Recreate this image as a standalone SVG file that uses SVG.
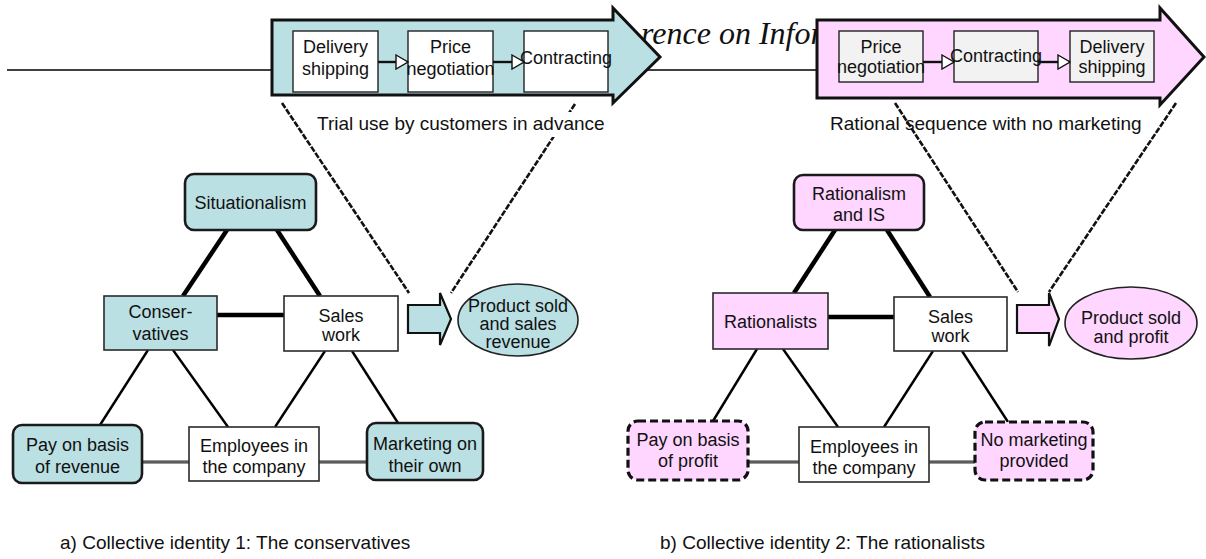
<svg xmlns="http://www.w3.org/2000/svg" width="1206" height="559" viewBox="0 0 1206 559">
  <defs>
    <style>
      .t { font-family: "Liberation Sans", Arial, sans-serif; font-size: 18px; fill: #111; text-anchor: middle; }
      .ts { font-family: "Liberation Sans", Arial, sans-serif; font-size: 18px; fill: #111; text-anchor: middle; }
      .lbl { font-family: "Liberation Sans", Arial, sans-serif; font-size: 19px; fill: #111; }
      .hdr { font-family: "Liberation Serif", "Times New Roman", serif; font-style: italic; font-size: 32px; fill: #111; }
      .teal { fill: #bae0e3; }
      .pink { fill: #ffd6ff; }
      .round { stroke: #1a1a1a; stroke-width: 2.6; }
      .plain { stroke: #2a2a2a; stroke-width: 1.6; }
      .dash { stroke: #111; stroke-width: 3.2; stroke-dasharray: 8 4; }
      .big { stroke: #111; stroke-width: 3; stroke-linejoin: miter; }
      .step { fill: #ffffff; stroke: #222; stroke-width: 1.4; }
      .step2 { fill: #f2f2f2; stroke: #222; stroke-width: 1.4; }
      .thick { stroke: #000; stroke-width: 4.5; fill: none; }
      .thin { stroke: #000; stroke-width: 2.4; fill: none; }
      .flat { stroke: #333; stroke-width: 3; fill: none; }
      .flat-in { stroke: #9a9a9a; stroke-width: 0.8; fill: none; }
      .proj { stroke: #111; stroke-width: 2.6; stroke-dasharray: 6 1.5; fill: none; }
      .flow { stroke: #111; stroke-width: 2.4; fill: none; marker-end: url(#open); }
    </style>
    <marker id="open" viewBox="0 0 14 16" refX="13" refY="8" markerWidth="14" markerHeight="16" markerUnits="userSpaceOnUse" orient="auto">
      <path d="M1,1 L13,8 L1,15 Z" fill="#fff" stroke="#111" stroke-width="1.4"/>
    </marker>
  </defs>

  <rect width="1206" height="559" fill="#fff"/>

  <!-- running header line and title fragment behind the process arrows -->
  <line x1="7" y1="70" x2="818" y2="70" stroke="#000" stroke-width="1.6"/>
  <text class="hdr" x="641" y="44">rence on Inform</text>

  <!-- projection lines from the process arrows down to the outcome arrows -->
  <g id="projections">
    <line class="proj" x1="282" y1="103" x2="409" y2="293"/>
    <line class="proj" x1="575" y1="104" x2="451" y2="293"/>
    <line class="proj" x1="895" y1="103" x2="1018" y2="292"/>
    <line class="proj" x1="1176" y1="103" x2="1049" y2="292"/>
  </g>

  <!-- process arrow a) -->
  <g id="process-a">
    <path class="teal big" d="M272,20 L613,20 L613,8 L660,57 L613,103 L613,95 L272,95 Z"/>
    <rect class="step" x="293" y="31" width="85" height="61"/>
    <text class="ts" x="335.5" y="53">Delivery</text>
    <text class="ts" x="335.5" y="75">shipping</text>
    <rect class="step" x="408" y="31" width="85" height="61"/>
    <text class="ts" x="450.5" y="53">Price</text>
    <text class="ts" x="450.5" y="75">negotiation</text>
    <rect class="step" x="524" y="31" width="84" height="61"/>
    <text class="ts" x="566" y="64">Contracting</text>
    <line class="flow" x1="378" y1="62" x2="408" y2="62"/>
    <line class="flow" x1="493" y1="62" x2="524" y2="62"/>
  </g>
  <rect x="313" y="112" width="296" height="25" fill="#fff"/>
  <text class="lbl" x="317" y="130">Trial use by customers in advance</text>

  <!-- process arrow b) -->
  <g id="process-b">
    <path class="pink big" d="M817,20 L1160,20 L1160,8 L1204,57 L1160,105 L1160,98 L817,98 Z"/>
    <rect class="step2" x="839" y="31" width="84" height="51"/>
    <text class="ts" x="881" y="53">Price</text>
    <text class="ts" x="881" y="73">negotiation</text>
    <rect class="step2" x="954" y="31" width="84" height="51"/>
    <text class="ts" x="996" y="62">Contracting</text>
    <rect class="step2" x="1070" y="31" width="84" height="51"/>
    <text class="ts" x="1112" y="53">Delivery</text>
    <text class="ts" x="1112" y="73">shipping</text>
    <line class="flow" x1="923" y1="62" x2="954" y2="62"/>
    <line class="flow" x1="1038" y1="62" x2="1070" y2="62"/>
  </g>
  <text class="lbl" x="830" y="130">Rational sequence with no marketing</text>

  <!-- connectors of both triangles -->
  <g id="connectors">
    <line class="thick" x1="227" y1="230" x2="183" y2="296"/>
    <line class="thick" x1="277" y1="230" x2="320" y2="296"/>
    <line class="thick" x1="217" y1="315" x2="284" y2="315"/>
    <line class="thin" x1="148" y1="350" x2="100" y2="425"/>
    <line class="thin" x1="173" y1="350" x2="228" y2="427"/>
    <line class="thin" x1="325" y1="351" x2="275" y2="427"/>
    <line class="thin" x1="352" y1="351" x2="398" y2="423"/>
    <line class="flat" x1="142" y1="462" x2="189" y2="462"/>
    <line class="flat-in" x1="142" y1="462" x2="189" y2="462"/>
    <line class="flat" x1="319" y1="462" x2="367" y2="462"/>
    <line class="flat-in" x1="319" y1="462" x2="367" y2="462"/>

    <line class="thick" x1="835" y1="230" x2="794" y2="293"/>
    <line class="thick" x1="887" y1="230" x2="930" y2="297"/>
    <line class="thick" x1="828" y1="317" x2="894" y2="317"/>
    <line class="thin" x1="757" y1="349" x2="713" y2="421"/>
    <line class="thin" x1="783" y1="349" x2="838" y2="427"/>
    <line class="thin" x1="933" y1="351" x2="884" y2="427"/>
    <line class="thin" x1="962" y1="351" x2="1008" y2="422"/>
    <line class="flat" x1="748" y1="462" x2="799" y2="462"/>
    <line class="flat-in" x1="748" y1="462" x2="799" y2="462"/>
    <line class="flat" x1="929" y1="462" x2="975" y2="462"/>
    <line class="flat-in" x1="929" y1="462" x2="975" y2="462"/>
  </g>

  <!-- identity a) -->
  <g id="situationalism">
    <rect class="teal round" x="185" y="174" width="131" height="56" rx="9"/>
    <text class="t" x="250.5" y="209">Situationalism</text>
  </g>
  <g id="conservatives">
    <rect class="teal plain" x="104" y="296" width="113" height="54"/>
    <text class="t" x="160.5" y="318">Conser-</text>
    <text class="t" x="160.5" y="340">vatives</text>
  </g>
  <g id="sales-work-a">
    <rect class="plain" fill="#fff" x="284" y="296" width="114" height="55"/>
    <text class="t" x="341" y="322">Sales</text>
    <text class="t" x="341" y="341">work</text>
  </g>
  <g id="outcome-arrow-a">
    <path class="teal" stroke="#111" stroke-width="2.2" d="M408,305 L440,305 L440,293 L451,319 L440,345 L440,333 L408,333 Z"/>
  </g>
  <g id="outcome-a">
    <ellipse class="teal" stroke="#222" stroke-width="1.6" cx="518" cy="320" rx="60" ry="36"/>
    <text class="t" x="518" y="312">Product sold</text>
    <text class="t" x="518" y="330">and sales</text>
    <text class="t" x="518" y="348">revenue</text>
  </g>
  <g id="pay-revenue">
    <rect class="teal round" x="13" y="425" width="129" height="58" rx="9"/>
    <text class="t" x="77.5" y="451">Pay on basis</text>
    <text class="t" x="77.5" y="473">of revenue</text>
  </g>
  <g id="employees-a">
    <rect class="plain" fill="#fff" x="189" y="427" width="130" height="54"/>
    <text class="t" x="254" y="452">Employees in</text>
    <text class="t" x="254" y="473">the company</text>
  </g>
  <g id="marketing-own">
    <rect class="teal round" x="367" y="423" width="116" height="57" rx="9"/>
    <text class="t" x="425" y="450">Marketing on</text>
    <text class="t" x="425" y="472">their own</text>
  </g>

  <!-- identity b) -->
  <g id="rationalism-is">
    <rect class="pink round" x="794" y="175" width="130" height="55" rx="9"/>
    <text class="t" x="859" y="200">Rationalism</text>
    <text class="t" x="859" y="221">and IS</text>
  </g>
  <g id="rationalists">
    <rect class="pink plain" x="713" y="293" width="115" height="56"/>
    <text class="t" x="770.5" y="328">Rationalists</text>
  </g>
  <g id="sales-work-b">
    <rect class="plain" fill="#fff" x="894" y="297" width="113" height="54"/>
    <text class="t" x="950.5" y="323">Sales</text>
    <text class="t" x="950.5" y="342">work</text>
  </g>
  <g id="outcome-arrow-b">
    <path class="pink" stroke="#111" stroke-width="2.2" d="M1017,305 L1049,305 L1049,293 L1059,319 L1049,346 L1049,333 L1017,333 Z"/>
  </g>
  <g id="outcome-b">
    <ellipse class="pink" stroke="#222" stroke-width="1.6" cx="1131" cy="323" rx="66" ry="36"/>
    <text class="t" x="1131" y="324">Product sold</text>
    <text class="t" x="1131" y="343">and profit</text>
  </g>
  <g id="pay-profit">
    <rect class="pink dash" x="628" y="421" width="120" height="59" rx="10"/>
    <text class="t" x="688" y="446">Pay on basis</text>
    <text class="t" x="688" y="467">of profit</text>
  </g>
  <g id="employees-b">
    <rect class="plain" fill="#fff" x="799" y="427" width="130" height="55"/>
    <text class="t" x="864" y="453">Employees in</text>
    <text class="t" x="864" y="474">the company</text>
  </g>
  <g id="no-marketing">
    <rect class="pink dash" x="975" y="422" width="118" height="58" rx="10"/>
    <text class="t" x="1034" y="446">No marketing</text>
    <text class="t" x="1034" y="467">provided</text>
  </g>

  <!-- captions -->
  <text class="lbl" x="60" y="549">a) Collective identity 1: The conservatives</text>
  <text class="lbl" x="660" y="549">b) Collective identity 2: The rationalists</text>
</svg>
